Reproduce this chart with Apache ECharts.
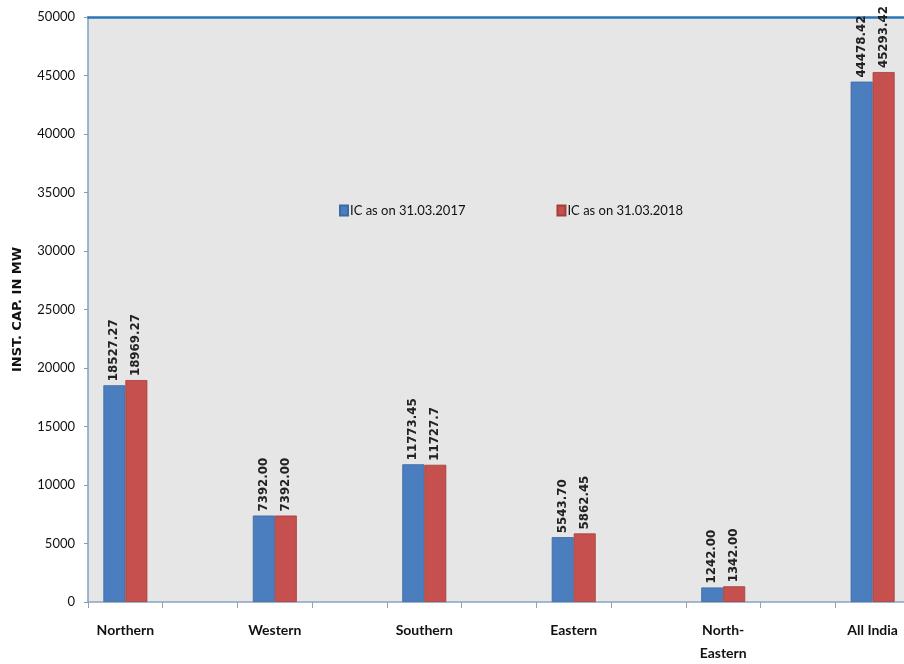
<!DOCTYPE html>
<html><head><meta charset="utf-8">
<script src="https://cdn.jsdelivr.net/npm/echarts@6/dist/echarts.min.js"></script>
<style>html,body{margin:0;padding:0;background:#fff}#c{width:904px;height:664px}</style>
</head><body><div id="c"></div>
<script>
var regions = ['Northern', 'Western', 'Southern', 'Eastern', 'North-\nEastern', 'All India'];
var ic2017 = [18527.27, 7392.00, 11773.45, 5543.70, 1242.00, 44478.42];
var ic2018 = [18969.27, 7392.00, 11727.7, 5862.45, 1342.00, 45293.42];
var lbl2017 = ['18527.27', '7392.00', '11773.45', '5543.70', '1242.00', '44478.42'];
var lbl2018 = ['18969.27', '7392.00', '11727.7', '5862.45', '1342.00', '45293.42'];
var seriesNames = ['IC as on 31.03.2017', 'IC as on 31.03.2018'];

// spread categories with empty gap slots between them
var cats = [], d17 = [], d18 = [];
regions.forEach(function (r, i) {
  if (i > 0) { cats.push(''); d17.push('-'); d18.push('-'); }
  cats.push(r);
  d17.push({ value: ic2017[i], label: { formatter: lbl2017[i] } });
  d18.push({ value: ic2018[i], label: { formatter: lbl2018[i] } });
});

var labelStyle = {
  show: true, position: 'top', rotate: 90, align: 'left', verticalAlign: 'middle',
  distance: 4, fontFamily: 'DejaVu Sans', fontWeight: 'bold', fontSize: 11.8, color: '#222'
};

var chart = echarts.init(document.getElementById('c'), null, { renderer: 'canvas' });
chart.setOption({
  animation: false,
  backgroundColor: '#ffffff',
  grid: { left: 88, right: -6, top: 17, bottom: 62, outerBoundsMode: 'none', show: true, backgroundColor: '#e6e6e6', borderWidth: 0 },
  legend: {
    left: 334, top: 199, itemWidth: 8, itemHeight: 10, itemGap: 91,
    icon: 'rect',
    textStyle: { fontFamily: 'Lato', fontSize: 13, color: '#111', padding: [0, 0, 0, -3] },
    data: seriesNames
  },
  xAxis: [{
    type: 'category', data: cats, position: 'bottom',
    axisLine: { lineStyle: { color: '#8aa4c0', width: 1.5 } },
    axisTick: { show: true, length: 6, lineStyle: { color: '#8aa4c0' }, interval: 0 },
    axisLabel: { interval: 0, margin: 17, fontFamily: 'Lato', fontWeight: 'bold', fontSize: 14, color: '#111', lineHeight: 23 }
  }, {
    type: 'category', data: cats, position: 'top',
    axisLine: { lineStyle: { color: '#2e75b6', width: 2.5 } },
    axisTick: { show: false }, axisLabel: { show: false }
  }],
  yAxis: {
    type: 'value', min: 0, max: 50000, interval: 5000,
    name: 'INST. CAP. IN MW', nameLocation: 'middle', nameGap: 64,
    nameTextStyle: { fontFamily: 'DejaVu Sans', fontWeight: 'bold', fontSize: 13, color: '#111' },
    axisLine: { show: true, lineStyle: { color: '#7f9fbf', width: 1.5 } },
    axisTick: { show: true, length: 4, lineStyle: { color: '#7f9fbf' } },
    splitLine: { show: false },
    axisLabel: { fontFamily: 'Lato', fontSize: 13, color: '#111', margin: 13, formatter: function (v) { return String(v); } }
  },
  series: [{
    name: seriesNames[0], type: 'bar', data: d17, barWidth: 22, barGap: '0%',
    itemStyle: { color: '#4a7ebf', borderColor: '#3c6aa3', borderWidth: 0.8 },
    label: labelStyle
  }, {
    name: seriesNames[1], type: 'bar', data: d18, barWidth: 22, barGap: '0%',
    itemStyle: { color: '#c5504d', borderColor: '#a23e3b', borderWidth: 0.8 },
    label: labelStyle
  }]
});
</script></body></html>
